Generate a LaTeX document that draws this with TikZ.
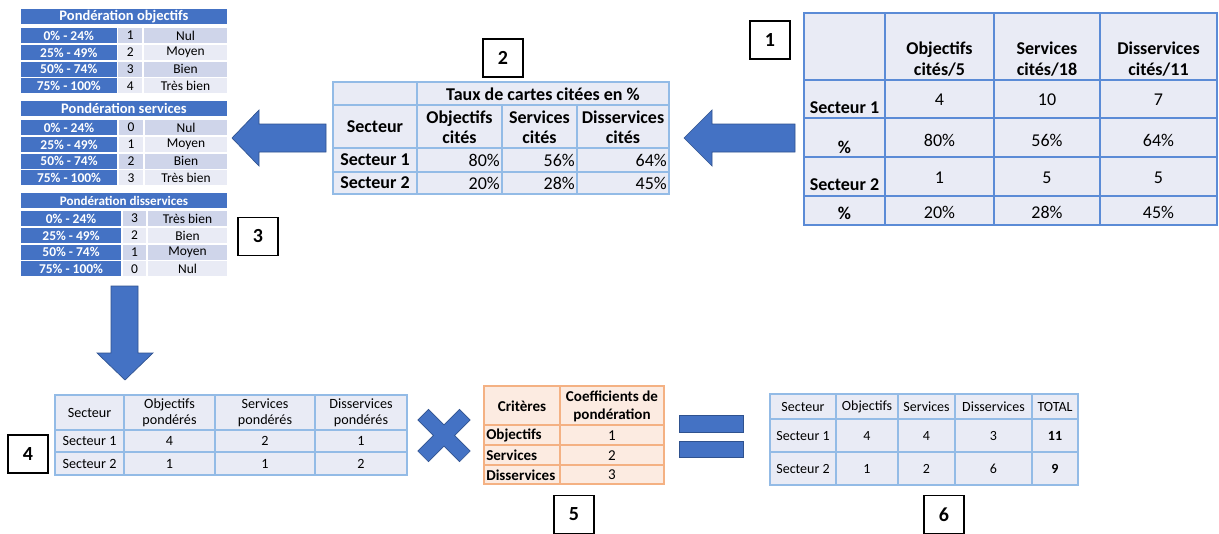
\documentclass[tikz,border=0pt]{standalone}
\usepackage{fontspec}
\setmainfont{Carlito}
\definecolor{wblue}{HTML}{4472C4}
\definecolor{wdark}{HTML}{2F528F}
\definecolor{rowA}{HTML}{CFD5EA}
\definecolor{rowB}{HTML}{E9EBF5}
\definecolor{tfill}{HTML}{E9EBF5}
\definecolor{tline}{HTML}{5B8BD6}
\definecolor{tlight}{HTML}{93BBE6}
\definecolor{ofill}{HTML}{FCEBE1}
\definecolor{oline}{HTML}{F4B183}
\definecolor{txtc}{HTML}{000000}
\tikzset{
  base/.style={inner sep=0pt, align=center, text=txtc},
  ta/.style={base, font=\fontsize{13.5}{15.75}\selectfont},
  tab/.style={base, font=\fontsize{13.5}{15.75}\selectfont\bfseries},
  tb/.style={base, font=\fontsize{13.5}{15}\selectfont},
  tbb/.style={base, font=\fontsize{13.5}{15}\selectfont\bfseries},
  td/.style={base, font=\fontsize{10.6}{12}\selectfont},
  te/.style={base, font=\fontsize{11.3}{13.5}\selectfont},
  teb/.style={base, font=\fontsize{11.3}{13.5}\selectfont\bfseries},
  tf/.style={base, font=\fontsize{10.5}{12}\selectfont},
  tfb/.style={base, font=\fontsize{10.5}{12}\selectfont\bfseries},
  wtitle/.style={base, text=white, font=\fontsize{10.9}{12}\selectfont\bfseries},
  wtxtb/.style={base, text=white, font=\fontsize{10.1}{12}\selectfont\bfseries},
  wtxt/.style={base, font=\fontsize{10.1}{12}\selectfont},
  wcell/.style={draw=white, line width=1pt},
  lab/.style={draw=black, line width=1.1pt, fill=white, minimum width=30pt, minimum height=28.5pt, inner sep=0pt, font=\fontsize{15}{18}\selectfont\bfseries},
  blockshape/.style={fill=wblue, draw=wdark, line width=0.5pt},
  g1/.style={draw=tline, line width=1.1pt},
  g2/.style={draw=tlight, line width=1.1pt},
  g3/.style={draw=oline, line width=1.1pt},
}
\newcommand\wrow[9]{%
  \filldraw[wcell, fill=wblue] (20,#1) rectangle (#3,#2);
  \filldraw[wcell, fill=#8] (#3,#1) rectangle (#4,#2);
  \filldraw[wcell, fill=#8] (#4,#1) rectangle (228,#2);
  \node[wtxtb] (#9a) at ({(20+#3)/2},{(#1+#2)/2}) {#5};
  \node[wtxt] (#9b) at ({(#3+#4)/2},{(#1+#2)/2}) {#6};
  \node[wtxt] (#9c) at ({(#4+228)/2},{(#1+#2)/2}) {#7};
}
\begin{document}
\begin{tikzpicture}[x=0.75pt, y=-0.75pt]
\useasboundingbox (0,0) rectangle (1219,533);
\fill[white] (0,0) rectangle (1219,533);

% ---------- weighting tables (3)
\filldraw[wcell, fill=wblue] (20,8) rectangle (228,25);
\node[wtitle] (wot) at (124,16.5) {Pondération objectifs};
\wrow{27}{44}{117.5}{143}{0\% - 24\%}{1}{Nul}{rowA}{wo1}
\wrow{44}{61}{117.5}{143}{25\% - 49\%}{2}{Moyen}{rowB}{wo2}
\wrow{61}{77.5}{117.5}{143}{50\% - 74\%}{3}{Bien}{rowA}{wo3}
\wrow{77.5}{94}{117.5}{143}{75\% - 100\%}{4}{Très bien}{rowB}{wo4}

\filldraw[wcell, fill=wblue] (20,100) rectangle (228,117);
\node[wtitle] (wst) at (124,108.5) {Pondération services};
\wrow{119}{136}{118}{144}{0\% - 24\%}{0}{Nul}{rowA}{ws1}
\wrow{136}{153}{118}{144}{25\% - 49\%}{1}{Moyen}{rowB}{ws2}
\wrow{153}{169.5}{118}{144}{50\% - 74\%}{2}{Bien}{rowA}{ws3}
\wrow{169.5}{186}{118}{144}{75\% - 100\%}{3}{Très bien}{rowB}{ws4}

\filldraw[wcell, fill=wblue] (20,192) rectangle (228,209);
\node[wtitle, font=\fontsize{9.8}{11}\selectfont\bfseries] (wdt) at (124,200.5) {Pondération disservices};
\wrow{210}{227}{122}{147}{0\% - 24\%}{3}{Très bien}{rowA}{wd1}
\wrow{227}{244}{122}{147}{25\% - 49\%}{2}{Bien}{rowB}{wd2}
\wrow{244}{260.5}{122}{147}{50\% - 74\%}{1}{Moyen}{rowA}{wd3}
\wrow{260.5}{277}{122}{147}{75\% - 100\%}{0}{Nul}{rowB}{wd4}

% ---------- table 1
\fill[tfill] (804,13) rectangle (1217,225);
\foreach \x in {885,994,1100} \draw[g1] (\x,13) -- (\x,225);
\foreach \y in {80,118,157,196} \draw[g1] (804,\y) -- (1217,\y);
\draw[g1] (804,13) rectangle (1217,225);
\node[tab] (t1h1) at (939.5,59) {Objectifs\\cités/5};
\node[tab] (t1h2) at (1047,59) {Services\\cités/18};
\node[tab] (t1h3) at (1158.5,59) {Disservices\\cités/11};
\node[tab] (t1r1) at (844.5,108) {Secteur 1};
\node[ta] (t1a1) at (939.5,100) {4};
\node[ta] (t1a2) at (1047,100) {10};
\node[ta] (t1a3) at (1158.5,100) {7};
\node[tab] (t1r2) at (844.5,147) {\%};
\node[ta] (t1b1) at (939.5,140) {80\%};
\node[ta] (t1b2) at (1047,140) {56\%};
\node[ta] (t1b3) at (1158.5,140) {64\%};
\node[tab] (t1r3) at (844.5,185) {Secteur 2};
\node[ta] (t1c1) at (939.5,178) {1};
\node[ta] (t1c2) at (1047,178) {5};
\node[ta] (t1c3) at (1158.5,178) {5};
\node[tab] (t1r4) at (844.5,213) {\%};
\node[ta] (t1d1) at (939.5,212) {20\%};
\node[ta] (t1d2) at (1047,212) {28\%};
\node[ta] (t1d3) at (1158.5,212) {45\%};

% ---------- table 2
\fill[tfill] (333,82) rectangle (669,194);
\draw[g2] (417,82) -- (417,194);
\foreach \x in {502,577} \draw[g2] (\x,105) -- (\x,194);
\foreach \y in {105,148,172} \draw[g2] (333,\y) -- (669,\y);
\draw[g2] (333,82) rectangle (669,194);
\node[tbb] (t2t) at (543,94) {Taux de cartes citées en \%};
\node[tbb] (t2s) at (375,127) {Secteur};
\node[tbb] (t2h1) at (459.5,127.5) {Objectifs\\cités};
\node[tbb] (t2h2) at (539.5,127.5) {Services\\cités};
\node[tbb] (t2h3) at (623,127.5) {Disservices\\cités};
\node[tbb] (t2r1) at (375,160) {Secteur 1};
\node[tb, anchor=east] (t2a1) at (500,160) {80\%};
\node[tb, anchor=east] (t2a2) at (575,160) {56\%};
\node[tb, anchor=east] (t2a3) at (667,160) {64\%};
\node[tbb] (t2r2) at (375,183) {Secteur 2};
\node[tb, anchor=east] (t2b1) at (500,183) {20\%};
\node[tb, anchor=east] (t2b2) at (575,183) {28\%};
\node[tb, anchor=east] (t2b3) at (667,183) {45\%};

% ---------- table 4
\fill[tfill] (55,395) rectangle (407,475);
\foreach \x in {124,215,315} \draw[g2] (\x,395) -- (\x,475);
\foreach \y in {430,452} \draw[g2] (55,\y) -- (407,\y);
\draw[g2] (55,395) rectangle (407,475);
\node[td] (t4s) at (89.5,412.5) {Secteur};
\node[td] (t4h1) at (169.5,413) {Objectifs\\pondérés};
\node[td] (t4h2) at (265,413) {Services\\pondérés};
\node[td] (t4h3) at (361,413) {Disservices\\pondérés};
\node[td] (t4r1) at (89.5,441) {Secteur 1};
\node[td] (t4a1) at (169.5,441) {4};
\node[td] (t4a2) at (265,441) {2};
\node[td] (t4a3) at (361,441) {1};
\node[td] (t4r2) at (89.5,463.5) {Secteur 2};
\node[td] (t4b1) at (169.5,463.5) {1};
\node[td] (t4b2) at (265,463.5) {1};
\node[td] (t4b3) at (361,463.5) {2};

% ---------- table 5
\fill[ofill] (484,386) rectangle (664,484);
\draw[g3] (560,386) -- (560,484);
\foreach \y in {425,445,465} \draw[g3] (484,\y) -- (664,\y);
\draw[g3] (484,386) rectangle (664,484);
\node[teb] (t5c) at (522,406) {Critères};
\node[teb] (t5k) at (612,406) {Coefficients de\\pondération};
\node[teb, anchor=west] (t5r1) at (486,435.5) {Objectifs};
\node[te] (t5a) at (612,435.5) {1};
\node[teb, anchor=west] (t5r2) at (486,455.5) {Services};
\node[te] (t5b) at (612,455.5) {2};
\node[teb, anchor=west] (t5r3) at (486,475) {Disservices};
\node[te] (t5d) at (612,475) {3};

% ---------- table 6
\fill[tfill] (770,394) rectangle (1078,485);
\foreach \x in {836,898,955,1032} \draw[g2] (\x,394) -- (\x,485);
\foreach \y in {419,452} \draw[g2] (770,\y) -- (1078,\y);
\draw[g2] (770,394) rectangle (1078,485);
\node[tf] (t6s) at (803,407) {Secteur};
\node[tf] (t6h1) at (867,407) {Objectifs};
\node[tf] (t6h2) at (926.5,407) {Services};
\node[tf] (t6h3) at (993.5,407) {Disservices};
\node[tf] (t6h4) at (1055,407) {TOTAL};
\node[tf] (t6r1) at (803,436) {Secteur 1};
\node[tf] (t6a1) at (867,436) {4};
\node[tf] (t6a2) at (926.5,436) {4};
\node[tf] (t6a3) at (993.5,436) {3};
\node[tfb] (t6a4) at (1055,436) {11};
\node[tf] (t6r2) at (803,469) {Secteur 2};
\node[tf] (t6b1) at (867,469) {1};
\node[tf] (t6b2) at (926.5,469) {2};
\node[tf] (t6b3) at (993.5,469) {6};
\node[tfb] (t6b4) at (1055,469) {9};

% ---------- block arrows and operators
\filldraw[blockshape] (232,138) -- (259,110) -- (259,124) -- (326,124) -- (326,152) -- (259,152) -- (259,166) -- cycle;
\filldraw[blockshape] (684,138) -- (712,110) -- (712,124) -- (795,124) -- (795,152) -- (712,152) -- (712,166) -- cycle;
\filldraw[blockshape] (111,286) -- (138,286) -- (138,353) -- (153,353) -- (125,380) -- (97,353) -- (111,353) -- cycle;
\begin{scope}[shift={(444,435.5)}, rotate=45]
\filldraw[blockshape] (29.5,7.5) -- (7.5,7.5) -- (7.5,29.5) -- (-7.5,29.5) -- (-7.5,7.5) -- (-29.5,7.5) -- (-29.5,-7.5) -- (-7.5,-7.5) -- (-7.5,-29.5) -- (7.5,-29.5) -- (7.5,-7.5) -- (29.5,-7.5) -- cycle;
\end{scope}
\filldraw[blockshape] (679,415) rectangle (743,432);
\filldraw[blockshape] (679,441) rectangle (743,457);

% ---------- step labels
\node[lab] (l1) at (770,40) {1};
\node[lab] (l2) at (503,58) {2};
\node[lab] (l3) at (258,236.5) {3};
\node[lab] (l4) at (28,454) {4};
\node[lab] (l5) at (574,514.5) {5};
\node[lab] (l6) at (944,514.5) {6};
\end{tikzpicture}
\end{document}
